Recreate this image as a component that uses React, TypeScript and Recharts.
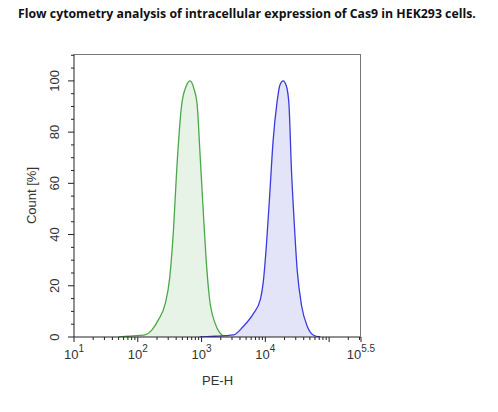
import { Area, ComposedChart, XAxis, YAxis } from 'recharts'

// PE-H position as log10 value, count as % of peak
const GREEN_LOG = [1.7, 1.85, 2.03, 2.11, 2.22, 2.32, 2.43, 2.5, 2.56, 2.61, 2.69, 2.76, 2.82, 2.88, 2.93, 2.975, 3.02, 3.07, 3.12, 3.21, 3.29, 3.38]
const GREEN_PCT = [0, 0.3, 0.6, 0.8, 2.7, 6.6, 13, 23, 42, 65, 91, 98, 100, 97, 91, 72, 52, 31, 16, 5.5, 1.5, 0]

const BLUE_LOG = [2.97, 3.21, 3.37, 3.5, 3.65, 3.81, 3.92, 3.97, 4.02, 4.07, 4.12, 4.18, 4.23, 4.28, 4.33, 4.37, 4.41, 4.45, 4.5, 4.57, 4.66, 4.75, 4.86]
const BLUE_PCT = [0, 0.3, 0.5, 0.8, 4, 9, 14.5, 22, 37, 56, 76, 91, 98.5, 100, 98, 91, 65, 46, 26, 12, 4, 0.8, 0]

const X_MAJOR = [1, 2, 3, 4, 5.5]
const X_EXP_LABELS = ['1', '2', '3', '4', '5.5']
const Y_MAJOR = [0, 20, 40, 60, 80, 100]

const greenData = GREEN_LOG.map((x, i) => ({ x, pct: GREEN_PCT[i] }))
const blueData = BLUE_LOG.map((x, i) => ({ x, pct: BLUE_PCT[i] }))

// log minor ticks (2..9 per decade) plus the unlabeled 10^5
const xMinor: number[] = []
for (let n = 1; n <= 5; n++) {
  for (let k = 2; k <= 9; k++) {
    const v = n + Math.log10(k)
    if (v < 5.5) xMinor.push(v)
  }
}
const xTicks = [...X_MAJOR, 5, ...xMinor].sort((a, b) => a - b)
const yTicks: number[] = []
for (let v = 0; v <= 110; v += 5) yTicks.push(v)

const TEXT = '#333'
const FONT = '"Liberation Sans", Arial, sans-serif'

function XTick({ x, y, payload }: any) {
  const v = payload.value as number
  const idx = X_MAJOR.indexOf(v)
  const major = idx >= 0 || v === 5
  return (
    <g>
      <line x1={x} x2={x} y1={y} y2={y + (major ? 5 : 3)} stroke="#222" />
      {idx >= 0 && (
        <text x={x} y={y + 22} textAnchor="middle" fill={TEXT} fontSize={13} fontFamily={FONT}>
          <tspan>10</tspan>
          <tspan dy={-7} fontSize={10}>{X_EXP_LABELS[idx]}</tspan>
        </text>
      )}
    </g>
  )
}

function YTick({ x, y, payload }: any) {
  const v = payload.value as number
  const major = Y_MAJOR.includes(v)
  return (
    <g>
      <line x1={x} x2={x - (major ? 6 : 3)} y1={y} y2={y} stroke="#222" />
      {major && (
        <text
          x={x - 15}
          y={y}
          transform={`rotate(-90 ${x - 15} ${y})`}
          textAnchor="middle"
          fill={TEXT}
          fontSize={13}
          fontFamily={FONT}
        >
          {v}
        </text>
      )}
    </g>
  )
}

export default function App() {
  return (
    <div style={{ position: 'relative', width: 498, height: 412, margin: -8, background: '#fff' }}>
      <div
        style={{
          position: 'absolute',
          left: 18,
          top: 5,
          fontFamily: '"Open Sans", sans-serif',
          fontWeight: 700,
          fontSize: 12.3,
          color: '#111',
          whiteSpace: 'nowrap',
        }}
      >
        Flow cytometry analysis of intracellular expression of Cas9 in HEK293 cells.
      </div>
      <div style={{ position: 'absolute', left: 0, top: 0 }}>
        <ComposedChart width={498} height={412} margin={{ top: 54, right: 137, bottom: 0, left: 0 }}>
          <XAxis
            dataKey="x"
            type="number"
            domain={[1, 5.5]}
            allowDataOverflow
            ticks={xTicks}
            interval={0}
            tick={<XTick />}
            tickLine={false}
            tickSize={0}
            tickMargin={0}
            height={75}
            axisLine={{ stroke: '#222' }}
            label={{ value: 'PE-H', position: 'insideTop', offset: 39, fill: TEXT, fontSize: 13, fontFamily: FONT }}
          />
          <YAxis
            type="number"
            domain={[0, 110.5]}
            allowDataOverflow
            ticks={yTicks}
            interval={0}
            tick={<YTick />}
            tickLine={false}
            tickSize={0}
            tickMargin={0}
            width={74}
            axisLine={{ stroke: '#222' }}
            label={{ value: 'Count [%]', angle: -90, position: 'center', dx: -6, fill: TEXT, fontSize: 13, fontFamily: FONT }}
          />
          <Area
            data={greenData}
            dataKey="pct"
            type="monotone"
            stroke="#4aa84a"
            strokeWidth={1.3}
            fill="#e6f3e6"
            fillOpacity={1}
            isAnimationActive={false}
            dot={false}
            activeDot={false}
          />
          <Area
            data={blueData}
            dataKey="pct"
            type="monotone"
            stroke="#3a3ae0"
            strokeWidth={1.3}
            fill="#e4e4f8"
            fillOpacity={1}
            isAnimationActive={false}
            dot={false}
            activeDot={false}
          />
        </ComposedChart>
      </div>
      {/* top and right edges of the plot frame */}
      <div
        style={{
          position: 'absolute',
          left: 74,
          top: 54,
          width: 287,
          height: 283,
          borderTop: '1px solid #777',
          borderRight: '1px solid #777',
          boxSizing: 'border-box',
          pointerEvents: 'none',
        }}
      />
    </div>
  )
}
